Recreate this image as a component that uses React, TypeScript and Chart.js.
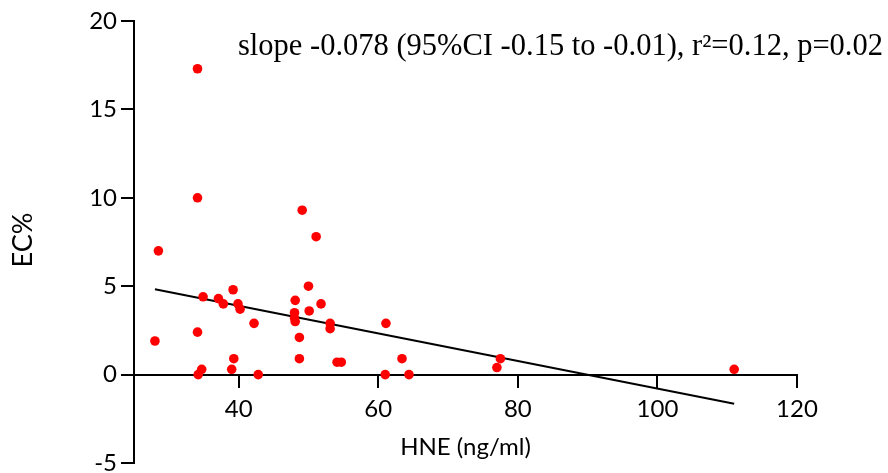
import React, { useEffect, useRef } from 'react';
import { Chart, registerables } from 'chart.js';

Chart.register(...registerables);

// HNE (ng/ml) values of each subject
const hne = [
  34.1, 34.1, 28.5, 28.0, 34.1, 34.9, 37.1, 37.8, 39.2, 39.9,
  40.2, 42.2, 39.3, 39.0, 34.7, 34.2, 42.8, 49.1, 51.1, 50.0,
  48.1, 51.8, 48.0, 50.1, 48.0, 48.1, 53.1, 53.1, 48.7, 48.7,
  54.1, 54.7, 61.1, 63.4, 61.0, 64.4, 77.5, 77.0, 111.0,
];
// EC% values of each subject
const ec = [
  17.3, 10.0, 7.0, 1.9, 2.4, 4.4, 4.3, 4.0, 4.8, 4.0,
  3.7, 2.9, 0.9, 0.3, 0.3, 0.0, 0.0, 9.3, 7.8, 5.0,
  4.2, 4.0, 3.5, 3.6, 3.2, 3.0, 2.9, 2.6, 2.1, 0.9,
  0.7, 0.7, 2.9, 0.9, 0.0, 0.0, 0.9, 0.4, 0.3,
];

const xTicks = [40, 60, 80, 100, 120];
const yTicks = [-5, 0, 5, 10, 15, 20];

// linear fit
const fitSlope = -0.078;
const fitIntercept = 7.01;

const annotation = 'slope -0.078 (95%CI -0.15 to -0.01), r\u00B2=0.12, p=0.02';
const xTitle = 'HNE (ng/ml)';
const yTitle = 'EC%';

const points = hne.map((x, i) => ({ x, y: ec[i] }));
const xMinData = Math.min(...hne);
const xMaxData = Math.max(...hne);
const fitLine = [xMinData, xMaxData].map((x) => ({ x, y: fitIntercept + fitSlope * x }));

const textPlugin = {
  id: 'texts',
  afterDraw(chart: any) {
    const { ctx, chartArea } = chart;
    ctx.save();
    ctx.fillStyle = '#000';
    ctx.font = '30.5px "Liberation Serif"';
    ctx.textAlign = 'left';
    ctx.textBaseline = 'alphabetic';
    ctx.fillText(annotation, 238, 55);

    ctx.font = '24px Lato';
    ctx.textAlign = 'center';
    ctx.fillText(xTitle, (chartArea.left + chartArea.right) / 2, 455);

    ctx.font = '27px Lato';
    ctx.translate(32, 240);
    ctx.rotate(-Math.PI / 2);
    ctx.fillText(yTitle, 0, 0);
    ctx.restore();
  },
};

export default function App() {
  const ref = useRef<HTMLCanvasElement | null>(null);
  useEffect(() => {
    if (!ref.current) return;
    const tickFont = { family: 'Lato', size: 24 };
    const chart = new Chart(ref.current, {
      type: 'scatter',
      data: {
        datasets: [
          {
            type: 'scatter',
            data: points,
            backgroundColor: '#ff0000',
            borderWidth: 0,
            pointRadius: 4.8,
          },
          {
            type: 'line',
            data: fitLine,
            borderColor: '#000',
            borderWidth: 2,
            pointRadius: 0,
            fill: false,
          } as any,
        ],
      },
      options: {
        animation: false,
        responsive: false,
        maintainAspectRatio: false,
        layout: { padding: { top: 21, right: 91, bottom: 10, left: 0 } },
        plugins: { legend: { display: false }, tooltip: { enabled: false } },
        scales: {
          x: {
            type: 'linear',
            min: 25,
            max: 120,
            position: { y: 0 } as any,
            afterBuildTicks: (s: any) => {
              s.ticks = xTicks.map((value) => ({ value }));
            },
            afterFit: (s: any) => {
              s.paddingLeft = 0;
              s.paddingRight = 0;
            },
            grid: { display: true, drawOnChartArea: false, drawTicks: true, tickLength: 12, color: '#000', lineWidth: 2 },
            border: { display: true, color: '#000', width: 2 },
            ticks: { font: tickFont, color: '#000', padding: 8, maxRotation: 0, autoSkip: false },
          },
          y: {
            type: 'linear',
            min: -5,
            max: 20,
            position: 'left',
            afterBuildTicks: (s: any) => {
              s.ticks = yTicks.map((value) => ({ value }));
            },
            afterFit: (s: any) => {
              s.width = 134;
              s.paddingTop = 0;
              s.paddingBottom = 0;
            },
            grid: { display: true, drawOnChartArea: false, drawTicks: true, tickLength: 13, color: '#000', lineWidth: 2 },
            border: { display: true, color: '#000', width: 2 },
            ticks: { font: tickFont, color: '#000', padding: 4, autoSkip: false },
          },
        },
      },
      plugins: [textPlugin],
    });
    return () => chart.destroy();
  }, []);
  return (
    <div style={{ position: 'fixed', left: 0, top: 0, width: 888, height: 473, background: '#fff' }}>
      <canvas ref={ref} width={888} height={473} style={{ width: 888, height: 473 }} />
    </div>
  );
}
